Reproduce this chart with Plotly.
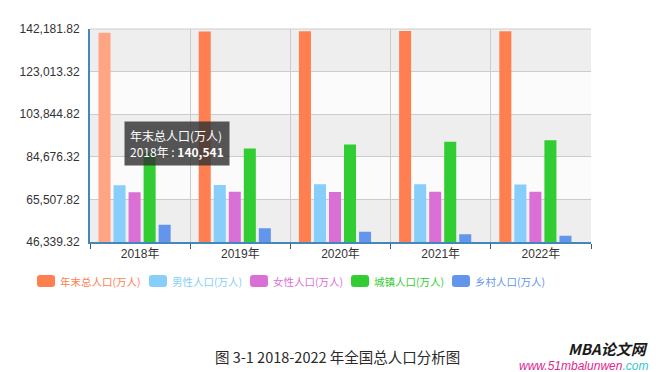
import plotly.graph_objects as go

# ---------------- data ----------------
years = ["2018年", "2019年", "2020年", "2021年", "2022年"]
series_names = ["年末总人口(万人)", "男性人口(万人)", "女性人口(万人)", "城镇人口(万人)", "乡村人口(万人)"]
total = [140541, 141008, 141212, 141260, 141175]
male = [71864, 72039, 72357, 72311, 72206]
female = [68677, 68969, 68855, 68949, 68969]
urban = [86433, 88426, 90220, 91425, 92071]
rural = [54108, 52582, 50992, 49835, 49104]
y_tick_vals = [46339.32, 65507.82, 84676.32, 103844.82, 123013.32, 142181.82]
y_tick_text = ["46,339.32", "65,507.82", "84,676.32", "103,844.82", "123,013.32", "142,181.82"]
caption = "图 3-1 2018-2022 年全国总人口分析图"

# ---------------- style ----------------
colors = ["#ff7f50", "#87cefa", "#da70d6", "#32cd32", "#6495ed"]
hover_color = "#ffa584"
W, H = 656, 372
L, R, T, B = 90, 591, 29, 242
pw, ph = R - L, B - T

def px(x):
    return (x - L) / pw

def py(y):
    return (B - y) / ph

font_main = "Liberation Sans, Arial, Noto Sans CJK SC, sans-serif"
font_cjk = "Noto Sans CJK SC, Microsoft YaHei, sans-serif"

fig = go.Figure()
all_series = [total, male, female, urban, rural]
bar_w = 0.12
for k, (name, vals) in enumerate(zip(series_names, all_series)):
    mc = [colors[k]] * len(vals)
    if k == 0:
        mc[0] = hover_color  # hovered bar highlight
    fig.add_trace(go.Bar(
        x=years, y=vals, name=name,
        marker=dict(color=mc, line=dict(width=0)),
        width=bar_w, offset=-0.415 + k * 0.15,
        showlegend=False, hoverinfo="skip",
    ))

# background split areas
shapes = []
for i in range(len(y_tick_vals) - 1):
    shapes.append(dict(
        type="rect", xref="paper", yref="y", x0=0, x1=1,
        y0=y_tick_vals[i], y1=y_tick_vals[i + 1],
        fillcolor="#eeeeee" if i % 2 == 0 else "#fbfbfb",
        line=dict(width=0), layer="below",
    ))
shapes.append(dict(type="line", xref="paper", yref="paper", x0=0, x1=1, y0=1, y1=1,
                   line=dict(color="#cccccc", width=1), layer="below"))

# custom legend
legend_lefts = [37, 149, 250, 351, 452]
leg_y = 281
annotations = []
rr = "M -6,-6 L 6,-6 Q 9,-6 9,-3 L 9,3 Q 9,6 6,6 L -6,6 Q -9,6 -9,3 L -9,-3 Q -9,-6 -6,-6 Z"
for k, name in enumerate(series_names):
    cx = legend_lefts[k] + 9
    shapes.append(dict(
        type="path", xref="paper", yref="paper", xsizemode="pixel", ysizemode="pixel",
        xanchor=px(cx), yanchor=py(leg_y), path=rr,
        fillcolor=colors[k], line=dict(width=0),
    ))
    annotations.append(dict(
        xref="paper", yref="paper", x=px(legend_lefts[k] + 21), y=py(leg_y),
        xanchor="left", yanchor="middle", showarrow=False, text=name,
        font=dict(family=font_cjk, size=10.5, color=colors[k]),
    ))

# tooltip replica
annotations.append(dict(
    xref="paper", yref="paper", x=px(124), y=py(121), xanchor="left", yanchor="top",
    showarrow=False, align="left",
    text=f"{series_names[0]}<br>{years[0]} : <b>{total[0]:,}</b>",
    font=dict(family=font_cjk, size=12, color="#ffffff"),
    bgcolor="rgba(50,50,50,0.82)", borderpad=5,
))

# caption
annotations.append(dict(
    xref="paper", yref="paper", x=px(337), y=py(356), xanchor="center", yanchor="middle",
    showarrow=False, text=caption,
    font=dict(family="Noto Sans CJK SC, sans-serif", size=14.5, color="#2a2a2a"),
))
# watermark
annotations.append(dict(
    xref="paper", yref="paper", x=px(650), y=py(348), xanchor="right", yanchor="middle",
    showarrow=False, text="<b><i>MBA论文网</i></b>",
    font=dict(family=font_cjk, size=15, color="#1a1a1a"),
))
annotations.append(dict(
    xref="paper", yref="paper", x=px(650), y=py(366), xanchor="right", yanchor="middle",
    showarrow=False,
    text="<i><span style='color:#e0268f'>www.51mbalunwen</span><span style='color:#35c4d0'>.com</span></i>",
    font=dict(family="Liberation Sans, Arial, sans-serif", size=12),
))

fig.update_layout(
    width=W, height=H,
    margin=dict(l=L, r=W - R, t=T, b=H - B, pad=0),
    paper_bgcolor="white", plot_bgcolor="white",
    barmode="overlay",
    font=dict(family=font_main, size=12, color="#333333"),
    shapes=shapes, annotations=annotations,
    hovermode=False,
    xaxis=dict(
        type="category", range=[-0.5, len(years) - 0.5],
        showline=True, linecolor="#4488bb", linewidth=2,
        ticks="outside", tickson="boundaries", ticklen=5, tickcolor="#445566",
        showgrid=True, gridcolor="#cccccc", gridwidth=1,
        tickfont=dict(size=12, color="#333333"),
        fixedrange=True,
    ),
    yaxis=dict(
        range=[y_tick_vals[0], y_tick_vals[-1]],
        tickmode="array", tickvals=y_tick_vals, ticktext=y_tick_text,
        showline=True, linecolor="#4488bb", linewidth=2,
        showgrid=True, gridcolor="#cccccc", gridwidth=1, zeroline=False,
        ticks="", ticklabelstandoff=6,
        tickfont=dict(size=12, color="#333333"),
        fixedrange=True,
    ),
)

fig.write_html(
    "out.html",
    config={"displayModeBar": False},
    post_script="document.body.style.margin='0px';document.body.style.overflow='hidden';",
)
